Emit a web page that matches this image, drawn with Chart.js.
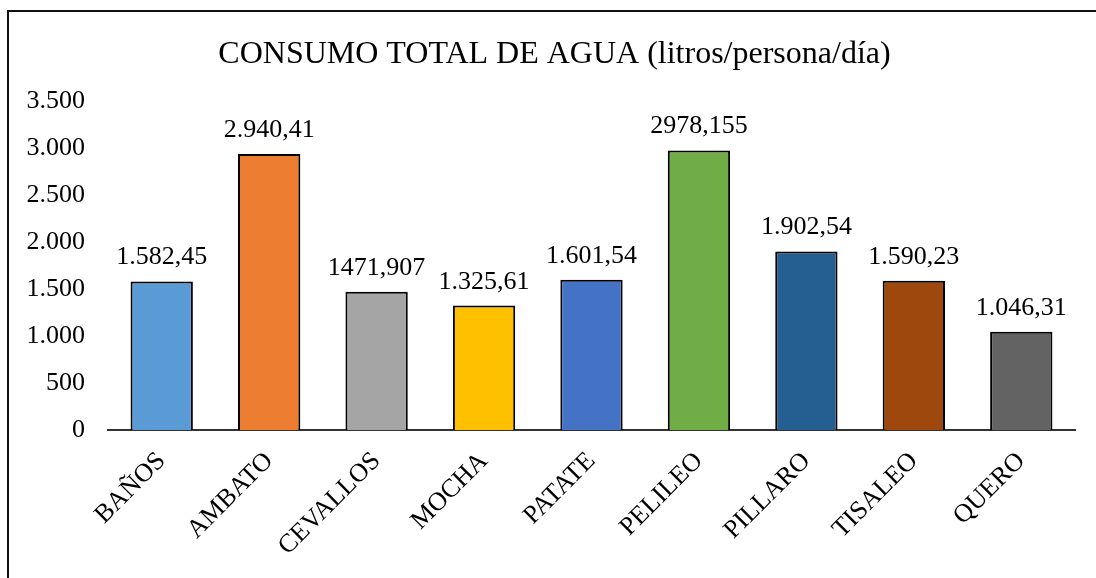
<!DOCTYPE html>
<html>
<head>
<meta charset="utf-8">
<script src="https://cdn.jsdelivr.net/npm/chart.js@4/dist/chart.umd.min.js"></script>
<style>
    html, body { margin: 0; padding: 0; background: #fff; overflow: hidden; }
    #wrap { position: relative; width: 1096px; height: 578px; overflow: hidden; }
    #frame {
        position: absolute; left: 7px; top: 10px; width: 1400px; height: 800px;
        border: 2px solid #111; pointer-events: none;
    }
    canvas { position: absolute; left: 0; top: 0; }
</style>
</head>
<body>
<div id="wrap">
    <div id="frame"></div>
    <canvas id="chart" width="1096" height="578"></canvas>
</div>
<script>
const titleText = "CONSUMO TOTAL DE AGUA (litros/persona/día)";
const categories = ["BAÑOS", "AMBATO", "CEVALLOS", "MOCHA", "PATATE", "PELILEO", "PILLARO", "TISALEO", "QUERO"];
const consumo = [1582.45, 2940.41, 1471.907, 1325.61, 1601.54, 2978.155, 1902.54, 1590.23, 1046.31];
const valueLabels = ["1.582,45", "2.940,41", "1471,907", "1.325,61", "1.601,54", "2978,155", "1.902,54", "1.590,23", "1.046,31"];
const yTickLabels = ["0", "500", "1.000", "1.500", "2.000", "2.500", "3.000", "3.500"];
const barColors = ["#5B9BD5", "#ED7D31", "#A5A5A5", "#FFC000", "#4472C4", "#70AD47", "#255E91", "#9E480E", "#636363"];

const FONT = "'Liberation Serif', 'Times New Roman', serif";

// draws the value above each bar
const valueLabelPlugin = {
    id: "valueLabels",
    afterLayout(chart) {
        // title sits a bit right of the canvas centre in the original
        const tb = chart.titleBlock;
        if (tb) { tb.left += 17; tb.right += 17; }
    },
    afterDatasetsDraw(chart) {
        const ctx = chart.ctx;
        const meta = chart.getDatasetMeta(0);
        ctx.save();
        ctx.font = `26px ${FONT}`;
        ctx.fillStyle = "#000";
        ctx.textAlign = "center";
        ctx.textBaseline = "alphabetic";
        meta.data.forEach((bar, i) => {
            ctx.fillText(valueLabels[i], bar.x, bar.y - 17);
        });
        ctx.restore();
    },
};

new Chart(document.getElementById("chart"), {
    type: "bar",
    data: {
        labels: categories,
        datasets: [{
            data: consumo,
            backgroundColor: barColors,
            borderColor: "#000",
            borderWidth: 2,
            categoryPercentage: 1,
            barPercentage: 0.58,
        }],
    },
    options: {
        responsive: false,
        animation: false,
        layout: { padding: { left: 0, right: 21, top: 0, bottom: 0 } },
        plugins: {
            legend: { display: false },
            tooltip: { enabled: false },
            title: {
                display: true,
                text: titleText,
                color: "#000",
                font: { family: FONT, size: 32, weight: "normal" },
                padding: { top: 35, bottom: 28 },
            },
        },
        scales: {
            x: {
                grid: { display: false, drawTicks: false },
                border: { display: true, color: "#333", width: 2 },
                ticks: {
                    color: "#000",
                    font: { family: FONT, size: 26 },
                    maxRotation: 45,
                    minRotation: 45,
                    padding: 16,
                },
                afterFit(scale) { scale.height = 148; },
            },
            y: {
                min: 0,
                max: 3500,
                grid: { display: false, drawTicks: false },
                border: { display: false },
                ticks: {
                    stepSize: 500,
                    color: "#000",
                    padding: 23,
                    font: { family: FONT, size: 26 },
                    callback: (v, i) => yTickLabels[i],
                },
                afterFit(scale) { scale.width = 108; },
            },
        },
    },
    plugins: [valueLabelPlugin],
});
</script>
</body>
</html>
